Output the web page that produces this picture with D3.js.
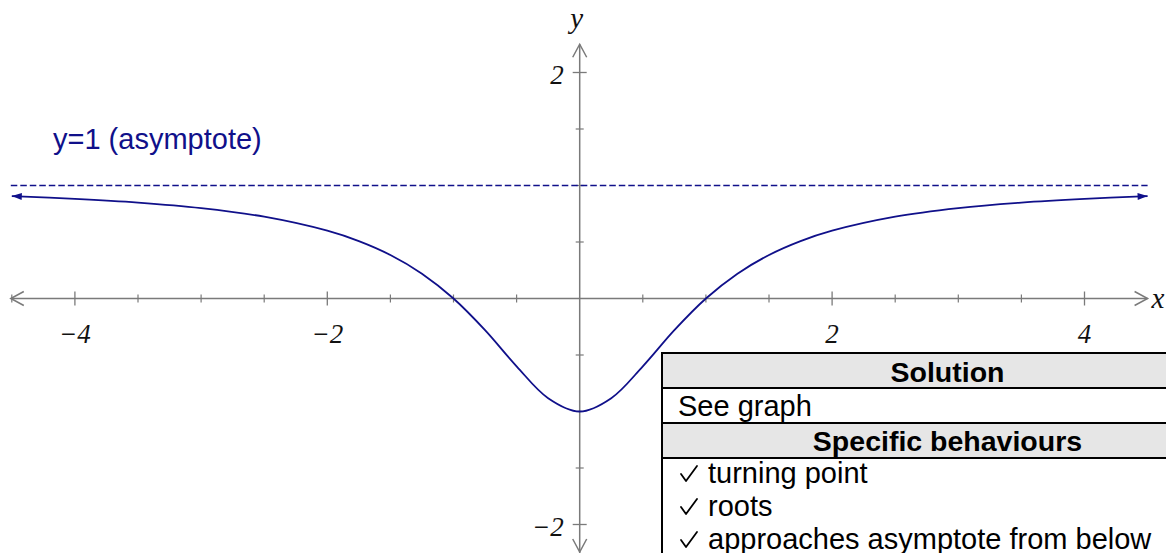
<!DOCTYPE html>
<html>
<head>
<meta charset="utf-8">
<script src="https://cdn.jsdelivr.net/npm/d3@7"></script>
<style>
  html, body { margin: 0; padding: 0; background: #fff; overflow: hidden; }
  svg { display: block; }
</style>
</head>
<body>
<svg id="chart" width="1166" height="553"></svg>
<script>
// ---- data ----
const curveX = [-4.5, -4, -3.5, -3, -2.5, -2, -1.75, -1.5, -1.25, -1, -0.75, -0.5, -0.25, 0,
                0.25, 0.5, 0.75, 1, 1.25, 1.5, 1.75, 2, 2.5, 3, 3.5, 4, 4.5];
const curveY = [0.906, 0.882, 0.849, 0.8, 0.724, 0.6, 0.508, 0.385, 0.22, 0, -0.28, -0.6, -0.882, -1,
                -0.882, -0.6, -0.28, 0, 0.22, 0.385, 0.508, 0.6, 0.724, 0.8, 0.849, 0.882, 0.906];
const asymptoteY = 1;
const asymptoteLabel = "y=1 (asymptote)";
const xMajorTicks = [-4, -2, 2, 4];
const xMajorLabels = ["\u22124", "\u22122", "2", "4"];
const xMinorTicks = [-4.5, -3.5, -3, -2.5, -1.5, -1, -0.5, 0.5, 1, 1.5, 2.5, 3, 3.5];
const yMajorTicks = [2, -2];
const yMajorLabels = ["2", "\u22122"];
const yMinorTicks = [1.5, 1, 0.5, -0.5, -1, -1.5];
const tableHeaders = ["Solution", "Specific behaviours"];
const tableSolution = ["See graph"];
const tableBehaviours = ["turning point", "roots", "approaches asymptote from below"];

// ---- drawing ----
const svg = d3.select("#chart");
const W = 1166, H = 553;
const x = d3.scaleLinear().domain([-4.5, 4.5]).range([11.8, 1147.6]);
const y = d3.scaleLinear().domain([-2.25, 2.25]).range([552.75, 44.25]);
const axisColor = "#7a7a7a";
const navy = "#10108a";
const serif = "'Liberation Serif', 'DejaVu Serif', serif";
const sans = "'Liberation Sans', Arial, sans-serif";

const defs = svg.append("defs");
defs.append("marker").attr("id", "arrowFill")
  .attr("viewBox", "0 0 10 10").attr("refX", 10).attr("refY", 5)
  .attr("markerWidth", 12).attr("markerHeight", 10).attr("markerUnits", "userSpaceOnUse")
  .attr("orient", "auto-start-reverse")
  .append("path").attr("d", "M0,1.5 L10,5 L0,8.5 Z").attr("fill", navy);

const axes = svg.append("g");
const y0 = y(0), x0 = x(0);
axes.append("line").attr("x1", x(-4.5) - 1).attr("x2", x(4.5)).attr("y1", y0).attr("y2", y0)
  .attr("stroke", axisColor).attr("stroke-width", 1.5);
axes.append("line").attr("x1", x0).attr("x2", x0).attr("y1", y(2.25)).attr("y2", H)
  .attr("stroke", axisColor).attr("stroke-width", 1.5);
const chev = (pts) => axes.append("path").attr("d", d3.line()(pts))
  .attr("fill", "none").attr("stroke", axisColor).attr("stroke-width", 1.5);
const xr = x(4.5), xl = x(-4.5) - 1, yt = y(2.25), yb = H - 1;
chev([[xr - 13, y0 - 7], [xr, y0], [xr - 13, y0 + 7]]);
chev([[xl + 13, y0 - 7], [xl, y0], [xl + 13, y0 + 7]]);
chev([[x0 - 7, yt + 13], [x0, yt], [x0 + 7, yt + 13]]);
chev([[x0 - 7, yb - 13], [x0, yb], [x0 + 7, yb - 13]]);

axes.selectAll(".xmaj").data(xMajorTicks).join("line")
  .attr("x1", d => x(d)).attr("x2", d => x(d)).attr("y1", y0 - 7).attr("y2", y0 + 7)
  .attr("stroke", axisColor).attr("stroke-width", 1.3);
axes.selectAll(".xmin").data(xMinorTicks).join("line")
  .attr("x1", d => x(d)).attr("x2", d => x(d)).attr("y1", y0 - 4).attr("y2", y0 + 4)
  .attr("stroke", axisColor).attr("stroke-width", 1.2);
axes.selectAll(".ymaj").data(yMajorTicks).join("line")
  .attr("x1", x0 - 7).attr("x2", x0 + 7).attr("y1", d => y(d)).attr("y2", d => y(d))
  .attr("stroke", axisColor).attr("stroke-width", 1.3);
axes.selectAll(".ymin").data(yMinorTicks).join("line")
  .attr("x1", x0 - 4).attr("x2", x0 + 4).attr("y1", d => y(d)).attr("y2", d => y(d))
  .attr("stroke", axisColor).attr("stroke-width", 1.2);

axes.selectAll(".xl").data(xMajorTicks).join("text")
  .attr("x", d => x(d)).attr("y", y0 + 44).attr("text-anchor", "middle")
  .attr("font-family", serif).attr("font-style", "italic").attr("font-size", 27)
  .attr("fill", "#111").text((d, i) => xMajorLabels[i]);
axes.selectAll(".yl").data(yMajorTicks).join("text")
  .attr("x", x0 - 16).attr("y", d => y(d) + 11).attr("text-anchor", "end")
  .attr("font-family", serif).attr("font-style", "italic").attr("font-size", 27)
  .attr("fill", "#111").text((d, i) => yMajorLabels[i]);
axes.append("text").attr("x", x0 - 3).attr("y", 28).attr("text-anchor", "middle")
  .attr("font-family", serif).attr("font-style", "italic").attr("font-size", 29)
  .attr("fill", "#111").text("y");
axes.append("text").attr("x", xr + 4).attr("y", y0 + 9)
  .attr("font-family", serif).attr("font-style", "italic").attr("font-size", 29)
  .attr("fill", "#111").text("x");

svg.append("line").attr("x1", x(-4.5) - 1).attr("x2", x(4.5)).attr("y1", y(asymptoteY)).attr("y2", y(asymptoteY))
  .attr("stroke", navy).attr("stroke-width", 1.5).attr("stroke-dasharray", "6.5,3");
svg.append("text").attr("x", 53).attr("y", 149).attr("font-family", sans).attr("font-size", 29)
  .attr("fill", navy).text(asymptoteLabel);

const pts = curveX.map((v, i) => [v, curveY[i]]);
svg.append("path").datum(pts)
  .attr("d", d3.line().x(d => x(d[0])).y(d => y(d[1])).curve(d3.curveCatmullRom.alpha(0.5)))
  .attr("fill", "none").attr("stroke", navy).attr("stroke-width", 1.8)
  .attr("marker-start", "url(#arrowFill)").attr("marker-end", "url(#arrowFill)");

// table
const tb = svg.append("g");
const tL = 662, tR = 1233;
const rows = [
  {y0: 353, y1: 388, fill: "#e6e6e6"},
  {y0: 388, y1: 423, fill: "#fff"},
  {y0: 423, y1: 458, fill: "#e6e6e6"},
  {y0: 458, y1: 600, fill: "#fff"}
];
tb.selectAll("rect").data(rows).join("rect")
  .attr("x", tL).attr("y", d => d.y0).attr("width", tR - tL).attr("height", d => d.y1 - d.y0)
  .attr("fill", d => d.fill).attr("stroke", "#000").attr("stroke-width", 2);
const cx = (tL + tR) / 2;
tb.append("text").attr("x", cx).attr("y", 382).attr("text-anchor", "middle")
  .attr("font-family", sans).attr("font-weight", "bold").attr("font-size", 28.5).text(tableHeaders[0]);
tb.append("text").attr("x", 678).attr("y", 416)
  .attr("font-family", sans).attr("font-size", 29).text(tableSolution[0]);
tb.append("text").attr("x", cx).attr("y", 451).attr("text-anchor", "middle")
  .attr("font-family", sans).attr("font-weight", "bold").attr("font-size", 28.5).text(tableHeaders[1]);
const items = tb.selectAll(".item").data(tableBehaviours).join("g")
  .attr("transform", (d, i) => `translate(0,${483 + i * 33})`);
items.append("text").attr("x", 680).attr("y", 0)
  .attr("font-family", "'DejaVu Sans', sans-serif").attr("font-size", 22).text("\u2714").remove();
items.append("path")
  .attr("d", "M681,-9 L686,-2 L697,-17")
  .attr("fill", "none").attr("stroke", "#000").attr("stroke-width", 1.8)
  .attr("stroke-linecap", "round").attr("stroke-linejoin", "round");
items.append("text").attr("x", 708).attr("y", 0)
  .attr("font-family", sans).attr("font-size", 29).text(d => d);
</script>
</body>
</html>
